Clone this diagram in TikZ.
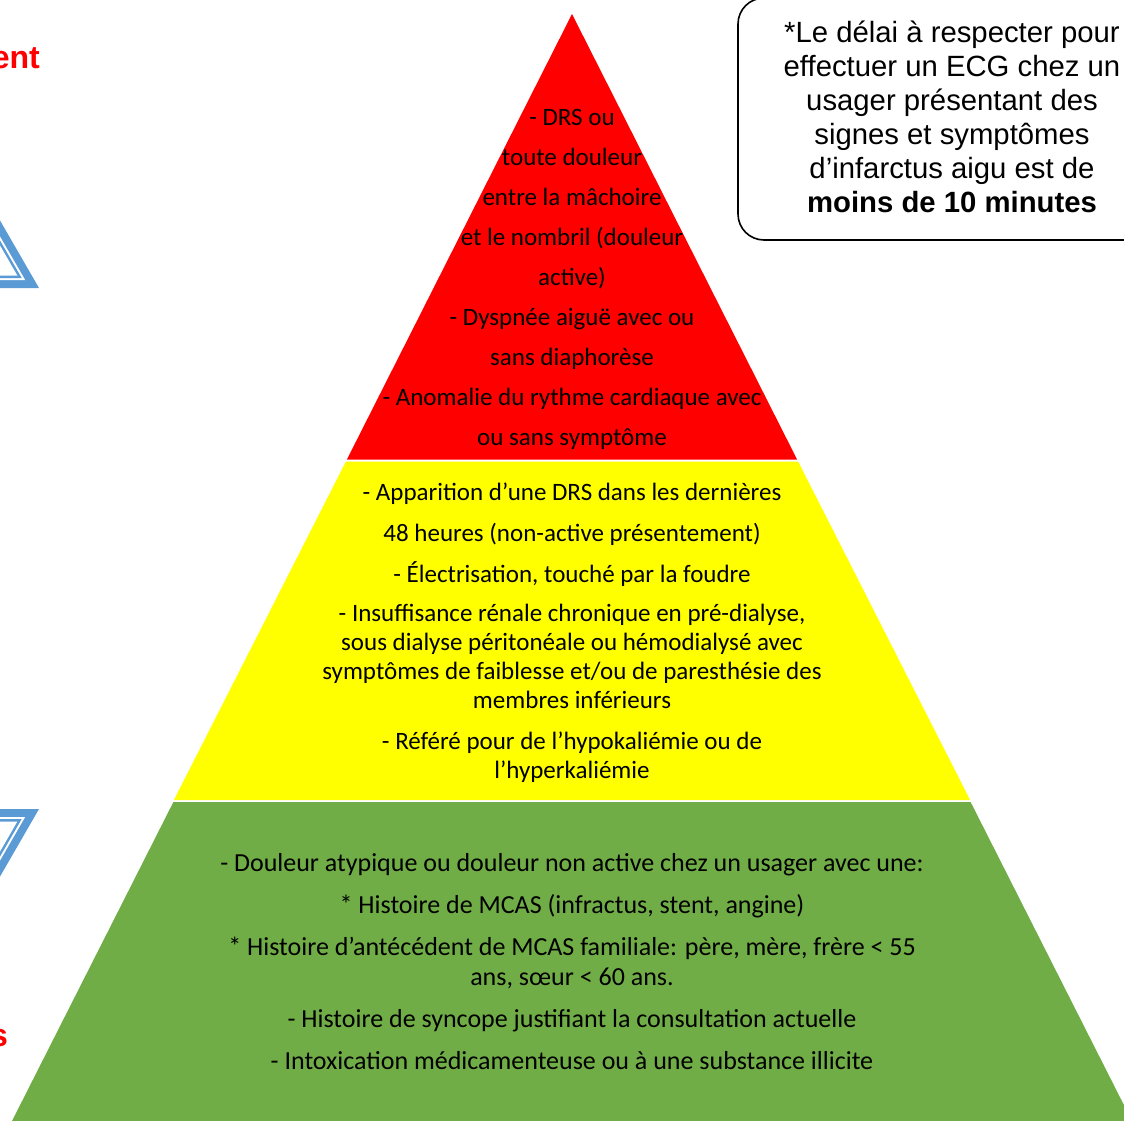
\documentclass[tikz,border=0pt]{standalone}
\usepackage{fontspec}
\setmainfont{Carlito}
\newfontfamily\arialfont{Liberation Sans}
\usetikzlibrary{positioning}
\definecolor{pyrred}{HTML}{FF0000}
\definecolor{pyryellow}{HTML}{FFFF00}
\definecolor{pyrgreen}{HTML}{70AD47}
\definecolor{triblue}{HTML}{5B9BD5}
\tikzset{%
  % Specifications for style of nodes:
            base/.style = {align=center, inner sep=0pt, text=black},
         redtext/.style = {base, font=\fontsize{25}{40}\selectfont},
      yellowtext/.style = {base, font=\fontsize{25}{29}\selectfont},
       greentext/.style = {base, font=\fontsize{26}{30}\selectfont},
         notetext/.style = {base, font=\arialfont\fontsize{29.3}{34}\selectfont},
        cuttext/.style = {inner sep=0pt, text=pyrred,
                           font=\arialfont\bfseries\fontsize{32}{38}\selectfont},
         notebox/.style = {draw=black, line width=1.6pt, rounded corners=26pt},
}
\begin{document}
\begin{tikzpicture}[x=1pt, y=-1pt]
  \useasboundingbox (0,0) rectangle (1124,1121);
  \clip (0,0) rectangle (1124,1121);

  % Pyramid bands
  \fill[pyrred]    (572,14) -- (346.9,459.5) -- (797.1,459.5) -- cycle;
  \fill[pyryellow] (345.9,461.5) -- (798.1,461.5) -- (970.1,800) -- (173.9,800) -- cycle;
  \fill[pyrgreen]  (173.4,802) -- (970.6,802) -- (1132,1121) -- (12,1121) -- cycle;

  % Cut-off triangles on the left
  \foreach \d/\c in {0/triblue, 8/white, 10/triblue, 12.5/white} {
    \fill[\c] ({39-1.732*\d},{288-\d}) -- ({-161+1.732*\d},{288-\d})
              -- (-61,{114.8+2*\d}) -- cycle;
    \fill[\c] ({39-1.732*\d},{809+\d}) -- ({-161+1.732*\d},{809+\d})
              -- (-61,{982.2-2*\d}) -- cycle;
  }

  % Specification of nodes (position, etc.)
  \node (redlist)    [redtext]    at (572,279) {- DRS ou\\toute douleur\\entre la mâchoire\\et le nombril (douleur\\active)\\- Dyspnée aiguë avec ou\\sans diaphorèse\\- Anomalie du rythme cardiaque avec\\ou sans symptôme};
  \node (yellowlist) [yellowtext] at (572,633) {- Apparition d’une DRS dans les dernières\\[12pt]48 heures (non-active présentement)\\[12pt]- Électrisation, touché par la foudre\\[10pt]- Insuffisance rénale chronique en pré-dialyse,\\sous dialyse péritonéale ou hémodialysé avec\\symptômes de faiblesse et/ou de paresthésie des\\membres inférieurs\\[12pt]- Référé pour de l’hypokaliémie ou de\\l’hyperkaliémie};
  \node (greenlist)  [greentext]  at (572,962) {- Douleur atypique ou douleur non active chez un usager avec une:\\[12pt]* Histoire de MCAS (infractus, stent, angine)\\[12pt]* Histoire d’antécédent de MCAS familiale: père, mère, frère < 55\\ans, sœur < 60 ans.\\[12pt]- Histoire de syncope justifiant la consultation actuelle\\[12pt]- Intoxication médicamenteuse ou à une substance illicite};

  \draw[notebox] (738,-2) rectangle (1150,240);
  \node (delay)      [notetext]   at (952,117) {*Le délai à respecter pour\\effectuer un ECG chez un\\usager présentant des\\signes et symptômes\\d’infarctus aigu est de\\\textbf{moins de 10 minutes}};

  \node (topcut)     [cuttext, anchor=base east] at (40,69) {ent};
  \node (bottomcut)  [cuttext, anchor=base east] at (8,1046) {s};
\end{tikzpicture}
\end{document}
